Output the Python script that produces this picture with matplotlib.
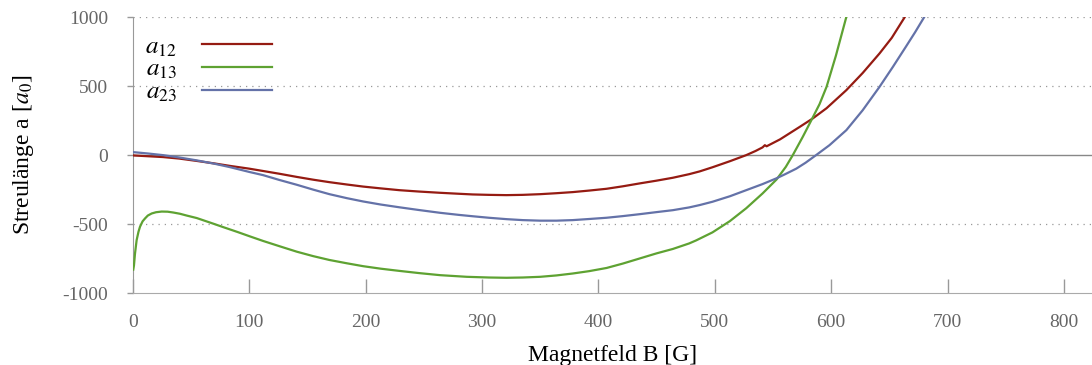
import matplotlib
matplotlib.use("Agg")
import matplotlib.pyplot as plt

plt.rcParams['font.family'] = ['Liberation Serif', 'DejaVu Serif']
plt.rcParams['mathtext.fontset'] = 'stix'
plt.rcParams['axes.unicode_minus'] = False

# scattering lengths a_ij in units of a0 versus field B in G
b12 = [0, 13, 26, 40, 55, 70, 83.5, 100, 112, 126, 141, 155, 169, 184, 198,
       213, 229, 246, 264, 280, 292, 306, 321, 335, 350, 364, 378, 392, 407,
       421, 435.5, 450, 464, 478, 487, 498, 513, 527, 535, 541, 543, 544.5,
       556, 573, 584, 596, 613, 627, 641.5, 652, 663, 668]
a12 = [-2, -8, -14, -25, -42, -60, -78, -98, -115, -135, -158, -178, -196,
       -213, -228, -241, -254, -264, -273, -280, -285, -288, -290, -288, -283,
       -276, -268, -257, -244, -226, -205, -185, -164, -138, -118, -88, -44, 0,
       30, 56, 72, 64, 114, 205, 265, 340, 471, 595, 737, 850, 998, 1070]

b13 = [0.5, 1.1, 2, 3.4, 5, 6.3, 8.5, 10.6, 13, 16.3, 20, 24.9, 30, 34.9, 40.6,
       46.4, 55, 60.6, 70, 77.8, 90, 100.7, 112, 126, 141, 155, 169, 184, 198,
       213, 229, 246, 264, 287, 306, 321, 335, 350, 364, 378, 392, 407, 421,
       435.5, 450, 464, 478, 484, 498, 513, 527, 541, 553, 561, 567, 575.6,
       583, 590, 596, 604, 613, 616]
a13 = [-830, -800, -713, -616, -555, -519, -480, -459, -438, -423, -414, -409,
       -410, -416, -425, -438, -456, -472, -499, -522, -557, -589, -622, -660,
       -700, -732, -760, -784, -805, -823, -839, -855, -870, -882, -887, -889,
       -887, -882, -872, -858, -841, -818, -786, -749, -712, -680, -640, -618,
       -560, -478, -385, -278, -177, -85, 0, 133, 254, 370, 495, 720, 1002,
       1080]

b23 = [0, 13, 26, 40, 55, 70, 83.5, 100.7, 112, 126, 141, 155, 169, 184, 198,
       213, 229, 246, 264, 280, 292, 306, 321, 335, 350, 364, 378, 392, 407,
       421, 435.5, 450, 464, 478, 487, 498, 513, 527, 541, 553, 560, 570, 578,
       587, 598.5, 613, 627, 641.5, 653, 664, 672, 680, 684]
a23 = [22, 12, 0, -17, -38, -62, -87, -123, -145, -180, -215, -250, -283, -312,
       -336, -358, -378, -398, -418, -433, -443, -454, -464, -471, -475, -475,
       -471, -463, -454, -442, -428, -413, -399, -379, -362, -338, -298, -254,
       -210, -168, -140, -98, -55, 0, 72, 181, 325, 495, 640, 784, 890, 1002,
       1065]

labels = ['$a_{12}$', '$a_{13}$', '$a_{23}$']
colors = ['#951b12', '#5ea232', '#6472a8']

fig = plt.figure(figsize=(10.92, 3.65), dpi=100)
ax = fig.add_axes([0.1215, 0.197, 0.8785, 0.756])

ax.axhline(0, color='#888888', lw=1.0, zorder=1)
for yv in [-500, 500, 1000]:
    ax.axhline(yv, color='#999999', lw=0.9, ls=(0, (1, 4)), zorder=1)

for b, a, lab, c in zip([b12, b13, b23], [a12, a13, a23], labels, colors):
    ax.plot(b, a, color=c, lw=1.6, label=lab, zorder=3)

ax.set_xlim(0, 824)
ax.set_ylim(-1000, 1000)
ax.set_xticks(range(0, 801, 100))
ax.set_yticks([-1000, -500, 0, 500, 1000])

for s in ['top', 'right']:
    ax.spines[s].set_visible(False)
ax.spines['left'].set_color('#999999')
ax.spines['bottom'].set_color('#aaaaaa')
ax.spines['bottom'].set_linestyle((0, (2, 1)))

ax.tick_params(axis='x', direction='in', length=10, width=1, color='#999999',
               pad=15, labelsize=14, labelcolor='#666666')
ax.tick_params(axis='y', direction='out', length=4, width=1, color='#999999',
               pad=13.5, labelsize=14, labelcolor='#666666')

ax.set_xlabel('Magnetfeld B [G]', fontsize=17, labelpad=10)
ax.set_ylabel('Streulänge a [$a_0$]', fontsize=17, labelpad=19)

leg = ax.legend(loc='upper left', frameon=False, markerfirst=False,
                fontsize=18, handlelength=2.8, labelspacing=0.0,
                handletextpad=1.0, borderpad=0.4, borderaxespad=0.1,
                bbox_to_anchor=(0.0, 0.978))

fig.savefig('out.png', dpi=100)
